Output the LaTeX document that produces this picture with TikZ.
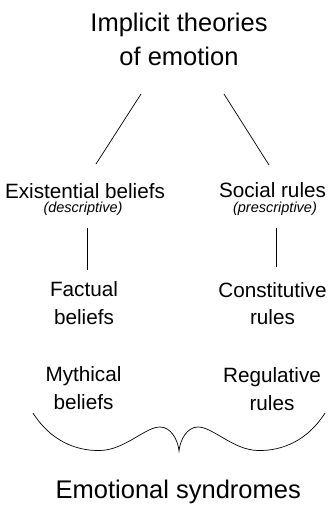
\documentclass[tikz,border=0pt]{standalone}
\usepackage{fontspec}
\setmainfont{Liberation Sans}
\usetikzlibrary{calc}
\begin{document}
\begin{tikzpicture}[x=1pt, y=-1pt, line width=0.7pt,
                every node/.style={inner sep=0pt, anchor=base, align=center},
                heading/.style={font=\fontsize{25.5}{33.3}\selectfont},
                item/.style={font=\fontsize{20.7}{27.3}\selectfont},
                note/.style={font=\fontsize{14.5}{17}\selectfont\itshape}]
                \useasboundingbox (0,0) rectangle (327,506);
                \node[heading] (theories) at (179,65) {Implicit theories\\of emotion};
                \node[item] (existbel) at (85,198.3) {Existential beliefs};
                \node[note] (descr) at (83,212.7) {(descriptive)};
                \node[item] (socrules) at (272.5,197) {Social rules};
                \node[note] (prescr) at (275,212) {(prescriptive)};
                \node[item] (factual) at (84,324) {Factual\\beliefs};
                \node[item] (constit) at (272.5,324.5) {Constitutive\\rules};
                \node[item] (mythical) at (83.5,409) {Mythical\\beliefs};
                \node[item] (regul) at (272,410) {Regulative\\rules};
                \node[heading] (syndromes) at (178.3,498.3) {Emotional syndromes};
                \draw ($(theories.base)+(-38,29)$) -- ($(existbel.base)+(11,-34.3)$);
                \draw ($(theories.base)+(45,29)$) -- ($(socrules.base)+(-3.5,-32)$);
                \draw ($(descr.base)+(4,15.3)$) -- ($(factual.base)+(3,-54)$);
                \draw ($(prescr.base)+(1.5,16)$) -- ($(constit.base)+(4,-57.5)$);
                % brace
                \draw (33,413) .. controls (50,440) and (75,451) .. (100,450.5)
                  .. controls (125,450) and (145,427) .. (160,427)
                  .. controls (171,427) and (178,440) .. (179,451)
                  .. controls (180,440) and (187,427) .. (198,427)
                  .. controls (213,427) and (233,450) .. (258,450.5)
                  .. controls (283,451) and (308,440) .. (325,413);
            \end{tikzpicture}
\end{document}
